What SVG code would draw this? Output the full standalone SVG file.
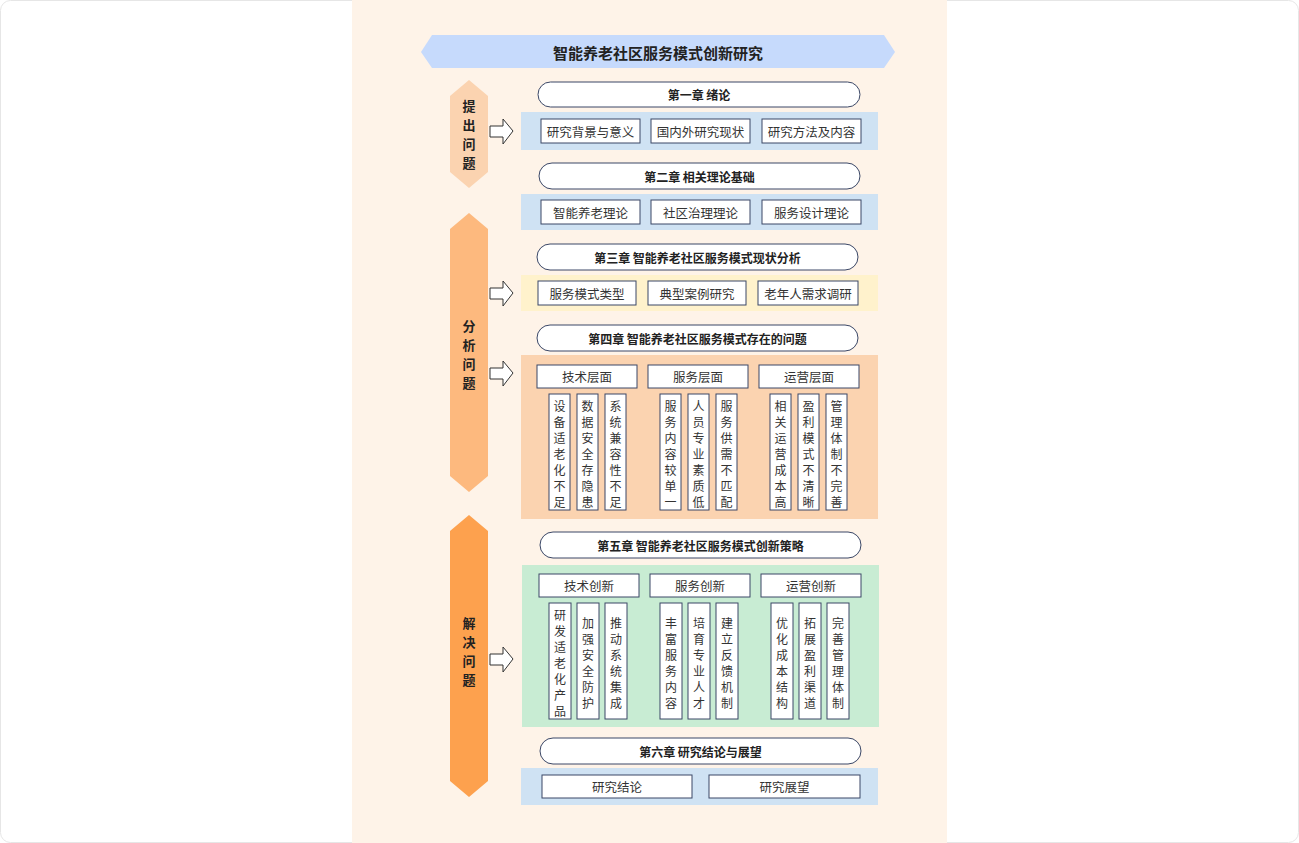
<svg xmlns="http://www.w3.org/2000/svg" width="1299" height="843" viewBox="0 0 1299 843">
<defs>
<style>
text{font-family:"Noto Sans CJK SC","Noto Sans",sans-serif;fill:#222;text-anchor:middle;dominant-baseline:central}
.pill{fill:#fff;stroke:#3b4766;stroke-width:1}
.box{fill:#fff;stroke:#3b4766;stroke-width:1}
.ch{font-size:12px;font-weight:bold}
.it{font-size:12.5px;fill:#333}
.vt{font-size:12px;fill:#333}
.side{font-size:13px;font-weight:bold}
.arr{fill:#fff;stroke:#333;stroke-width:1}
</style>
</defs>
<rect x="0.5" y="0.5" width="1298" height="842" rx="10" fill="#fff" stroke="#e6e6e6"/>
<rect x="352" y="0" width="595" height="843" fill="#fef3e8"/>
<g id="title">
<polygon points="421,52 432,35 884,35 895,52 884,68 432,68" fill="#c6dafc"/>
<text x="658" y="52" style="font-size:15px;font-weight:bold">智能养老社区服务模式创新研究</text>
</g>
<g id="stage1">
<polygon points="469,80 488,96 488,172 469,188 450,172 450,96" fill="#fbd3b0"/>
<text class="side" x="469" y="105">提</text><text class="side" x="469" y="124">出</text><text class="side" x="469" y="143">问</text><text class="side" x="469" y="162">题</text>
</g>
<g id="stage2">
<polygon points="469,213 488,229 488,476 469,492 450,476 450,229" fill="#fdb97e"/>
<text class="side" x="469" y="325">分</text><text class="side" x="469" y="344">析</text><text class="side" x="469" y="363">问</text><text class="side" x="469" y="382">题</text>
</g>
<g id="stage3">
<polygon points="469,515 488,531 488,781 469,797 450,781 450,531" fill="#fda14e"/>
<text class="side" x="469" y="622">解</text><text class="side" x="469" y="641">决</text><text class="side" x="469" y="660">问</text><text class="side" x="469" y="679">题</text>
</g>
<g id="connectors">
<polygon class="arr" points="490,126 503,126 503,119 513,131 503,144 503,137 490,137"/>
<polygon class="arr" points="490,288 503,288 503,281 513,293 503,306 503,299 490,299"/>
<polygon class="arr" points="490,368 503,368 503,361 513,373 503,386 503,379 490,379"/>
<polygon class="arr" points="490,654 503,654 503,647 513,659 503,672 503,665 490,665"/>
</g>
<g id="ch1">
<rect class="pill" x="538" y="82" width="322" height="25" rx="12.5"/><text class="ch" x="699" y="94.5">第一章 绪论</text>
</g>
<g id="row1">
<rect x="521" y="112" width="357" height="38" fill="#cfe2f3"/>
<rect class="box" x="541" y="119" width="99" height="24"/><text class="it" x="590.5" y="131">研究背景与意义</text>
<rect class="box" x="651" y="119" width="99" height="24"/><text class="it" x="700.5" y="131">国内外研究现状</text>
<rect class="box" x="762" y="119" width="99" height="24"/><text class="it" x="811.5" y="131">研究方法及内容</text>
</g>
<g id="ch2">
<rect class="pill" x="539" y="163" width="321" height="26" rx="13"/><text class="ch" x="699.5" y="176">第二章 相关理论基础</text>
</g>
<g id="row2">
<rect x="521" y="194" width="357" height="36" fill="#cfe2f3"/>
<rect class="box" x="541" y="200" width="99" height="24"/><text class="it" x="590.5" y="212">智能养老理论</text>
<rect class="box" x="651" y="200" width="99" height="24"/><text class="it" x="700.5" y="212">社区治理理论</text>
<rect class="box" x="762" y="200" width="99" height="24"/><text class="it" x="811.5" y="212">服务设计理论</text>
</g>
<g id="ch3">
<rect class="pill" x="537" y="244" width="321" height="26" rx="13"/><text class="ch" x="697.5" y="257">第三章 智能养老社区服务模式现状分析</text>
</g>
<g id="row3">
<rect x="521" y="275" width="357" height="36" fill="#fff2cc"/>
<rect class="box" x="538" y="281" width="98" height="24"/><text class="it" x="587" y="293">服务模式类型</text>
<rect class="box" x="648" y="281" width="98" height="24"/><text class="it" x="697" y="293">典型案例研究</text>
<rect class="box" x="758" y="281" width="100" height="24"/><text class="it" x="808" y="293">老年人需求调研</text>
</g>
<g id="ch4">
<rect class="pill" x="537" y="325" width="321" height="26" rx="13"/><text class="ch" x="697.5" y="338">第四章 智能养老社区服务模式存在的问题</text>
</g>
<g id="row4">
<rect x="521" y="355" width="357" height="164" fill="#fbd3b0"/>
<rect class="box" x="537" y="365" width="100" height="23"/><text class="it" x="587" y="376.5">技术层面</text>
<rect class="box" x="648" y="365" width="100" height="23"/><text class="it" x="698" y="376.5">服务层面</text>
<rect class="box" x="759" y="365" width="100" height="23"/><text class="it" x="809" y="376.5">运营层面</text>
<rect class="box" x="549" y="394" width="21" height="116"/>
<rect class="box" x="577" y="394" width="21" height="116"/>
<rect class="box" x="605" y="394" width="21" height="116"/>
<rect class="box" x="660" y="394" width="21" height="116"/>
<rect class="box" x="688" y="394" width="21" height="116"/>
<rect class="box" x="716" y="394" width="21" height="116"/>
<rect class="box" x="770" y="394" width="21" height="116"/>
<rect class="box" x="798" y="394" width="21" height="116"/>
<rect class="box" x="826" y="394" width="21" height="116"/>
<text class="vt"><tspan x="559.5" y="405">设</tspan><tspan x="559.5" y="421">备</tspan><tspan x="559.5" y="437">适</tspan><tspan x="559.5" y="453">老</tspan><tspan x="559.5" y="469">化</tspan><tspan x="559.5" y="485">不</tspan><tspan x="559.5" y="501">足</tspan></text>
<text class="vt"><tspan x="587.5" y="405">数</tspan><tspan x="587.5" y="421">据</tspan><tspan x="587.5" y="437">安</tspan><tspan x="587.5" y="453">全</tspan><tspan x="587.5" y="469">存</tspan><tspan x="587.5" y="485">隐</tspan><tspan x="587.5" y="501">患</tspan></text>
<text class="vt"><tspan x="615.5" y="405">系</tspan><tspan x="615.5" y="421">统</tspan><tspan x="615.5" y="437">兼</tspan><tspan x="615.5" y="453">容</tspan><tspan x="615.5" y="469">性</tspan><tspan x="615.5" y="485">不</tspan><tspan x="615.5" y="501">足</tspan></text>
<text class="vt"><tspan x="670.5" y="405">服</tspan><tspan x="670.5" y="421">务</tspan><tspan x="670.5" y="437">内</tspan><tspan x="670.5" y="453">容</tspan><tspan x="670.5" y="469">较</tspan><tspan x="670.5" y="485">单</tspan><tspan x="670.5" y="501">一</tspan></text>
<text class="vt"><tspan x="698.5" y="405">人</tspan><tspan x="698.5" y="421">员</tspan><tspan x="698.5" y="437">专</tspan><tspan x="698.5" y="453">业</tspan><tspan x="698.5" y="469">素</tspan><tspan x="698.5" y="485">质</tspan><tspan x="698.5" y="501">低</tspan></text>
<text class="vt"><tspan x="726.5" y="405">服</tspan><tspan x="726.5" y="421">务</tspan><tspan x="726.5" y="437">供</tspan><tspan x="726.5" y="453">需</tspan><tspan x="726.5" y="469">不</tspan><tspan x="726.5" y="485">匹</tspan><tspan x="726.5" y="501">配</tspan></text>
<text class="vt"><tspan x="780.5" y="405">相</tspan><tspan x="780.5" y="421">关</tspan><tspan x="780.5" y="437">运</tspan><tspan x="780.5" y="453">营</tspan><tspan x="780.5" y="469">成</tspan><tspan x="780.5" y="485">本</tspan><tspan x="780.5" y="501">高</tspan></text>
<text class="vt"><tspan x="808.5" y="405">盈</tspan><tspan x="808.5" y="421">利</tspan><tspan x="808.5" y="437">模</tspan><tspan x="808.5" y="453">式</tspan><tspan x="808.5" y="469">不</tspan><tspan x="808.5" y="485">清</tspan><tspan x="808.5" y="501">晰</tspan></text>
<text class="vt"><tspan x="836.5" y="405">管</tspan><tspan x="836.5" y="421">理</tspan><tspan x="836.5" y="437">体</tspan><tspan x="836.5" y="453">制</tspan><tspan x="836.5" y="469">不</tspan><tspan x="836.5" y="485">完</tspan><tspan x="836.5" y="501">善</tspan></text>
</g>
<g id="ch5">
<rect class="pill" x="540" y="532" width="321" height="26" rx="13"/><text class="ch" x="700.5" y="545">第五章 智能养老社区服务模式创新策略</text>
</g>
<g id="row5">
<rect x="522" y="565" width="357" height="162" fill="#c8ecd3"/>
<rect class="box" x="539" y="574" width="100" height="23"/><text class="it" x="589" y="585.5">技术创新</text>
<rect class="box" x="650" y="574" width="100" height="23"/><text class="it" x="700" y="585.5">服务创新</text>
<rect class="box" x="761" y="574" width="100" height="23"/><text class="it" x="811" y="585.5">运营创新</text>
<rect class="box" x="549" y="603" width="22" height="116"/>
<rect class="box" x="577" y="603" width="22" height="116"/>
<rect class="box" x="605" y="603" width="22" height="116"/>
<rect class="box" x="660" y="603" width="22" height="116"/>
<rect class="box" x="688" y="603" width="22" height="116"/>
<rect class="box" x="716" y="603" width="22" height="116"/>
<rect class="box" x="771" y="603" width="22" height="116"/>
<rect class="box" x="799" y="603" width="22" height="116"/>
<rect class="box" x="827" y="603" width="22" height="116"/>
<text class="vt"><tspan x="560" y="614">研</tspan><tspan x="560" y="630">发</tspan><tspan x="560" y="646">适</tspan><tspan x="560" y="662">老</tspan><tspan x="560" y="678">化</tspan><tspan x="560" y="694">产</tspan><tspan x="560" y="710">品</tspan></text>
<text class="vt"><tspan x="588" y="622">加</tspan><tspan x="588" y="638">强</tspan><tspan x="588" y="654">安</tspan><tspan x="588" y="670">全</tspan><tspan x="588" y="686">防</tspan><tspan x="588" y="702">护</tspan></text>
<text class="vt"><tspan x="616" y="622">推</tspan><tspan x="616" y="638">动</tspan><tspan x="616" y="654">系</tspan><tspan x="616" y="670">统</tspan><tspan x="616" y="686">集</tspan><tspan x="616" y="702">成</tspan></text>
<text class="vt"><tspan x="671" y="622">丰</tspan><tspan x="671" y="638">富</tspan><tspan x="671" y="654">服</tspan><tspan x="671" y="670">务</tspan><tspan x="671" y="686">内</tspan><tspan x="671" y="702">容</tspan></text>
<text class="vt"><tspan x="699" y="622">培</tspan><tspan x="699" y="638">育</tspan><tspan x="699" y="654">专</tspan><tspan x="699" y="670">业</tspan><tspan x="699" y="686">人</tspan><tspan x="699" y="702">才</tspan></text>
<text class="vt"><tspan x="727" y="622">建</tspan><tspan x="727" y="638">立</tspan><tspan x="727" y="654">反</tspan><tspan x="727" y="670">馈</tspan><tspan x="727" y="686">机</tspan><tspan x="727" y="702">制</tspan></text>
<text class="vt"><tspan x="782" y="622">优</tspan><tspan x="782" y="638">化</tspan><tspan x="782" y="654">成</tspan><tspan x="782" y="670">本</tspan><tspan x="782" y="686">结</tspan><tspan x="782" y="702">构</tspan></text>
<text class="vt"><tspan x="810" y="622">拓</tspan><tspan x="810" y="638">展</tspan><tspan x="810" y="654">盈</tspan><tspan x="810" y="670">利</tspan><tspan x="810" y="686">渠</tspan><tspan x="810" y="702">道</tspan></text>
<text class="vt"><tspan x="838" y="622">完</tspan><tspan x="838" y="638">善</tspan><tspan x="838" y="654">管</tspan><tspan x="838" y="670">理</tspan><tspan x="838" y="686">体</tspan><tspan x="838" y="702">制</tspan></text>
</g>
<g id="ch6">
<rect class="pill" x="540" y="738" width="321" height="26" rx="13"/><text class="ch" x="700.5" y="751">第六章 研究结论与展望</text>
</g>
<g id="row6">
<rect x="521" y="768" width="357" height="37" fill="#cfe2f3"/>
<rect class="box" x="542" y="775" width="150" height="23"/><text class="it" x="617" y="786.5">研究结论</text>
<rect class="box" x="709" y="775" width="151" height="23"/><text class="it" x="784.5" y="786.5">研究展望</text>
</g>
</svg>
